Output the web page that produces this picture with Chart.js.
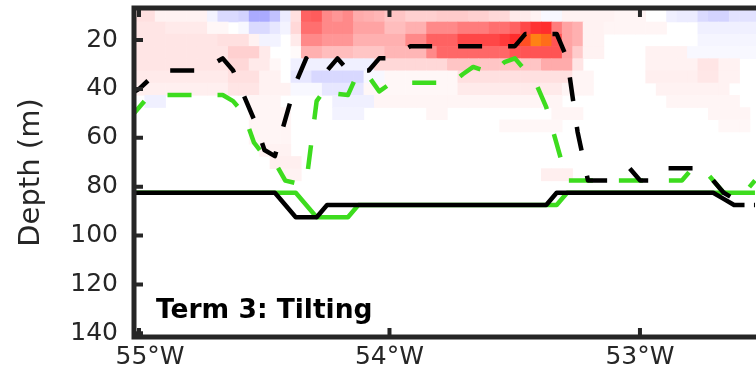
<!DOCTYPE html>
<html>
<head>
<meta charset="utf-8">
<script src="https://cdn.jsdelivr.net/npm/chart.js@4.4.1/dist/chart.umd.min.js"></script>
<style>
html, body { margin: 0; padding: 0; background: #fff; overflow: hidden; }
#wrap { width: 756px; height: 384px; overflow: hidden; }
</style>
</head>
<body>
<div id="wrap"><canvas id="tilt" width="800" height="384"></canvas></div>
<script>
// grid of the tilting term (1/24 deg x 5 m cells), values in % of colour range
const lonStart = -55.02;
const lonStep = 1 / 24;
const depthRows = [10, 15, 20, 25, 30, 35, 40, 45, 50, 55, 60, 65, 70, 75];

const heat10 = [12,12, 5,5,5,5,5, -5, -15,-15,-18, -35,-35, -25, -8, 12, 60, 62, 45, 40, 45, 32,30,28, 22,22, 18,18,18, 20,20,20, 18,18, 15,15, 8,8, 5, -3,-3, 5,5,5,5,5, 4,4,4, 0,0, -6,-8,-8, -15,-18,-18, -12,-12,-12];
const heat15 = [10,10,10, 8,8,8,8, 3,3, 0,-3, -15,-15, -10, -5, 15, 55,55, 45,45,45, 35,35,35, 25,25, 30,30, 45,45,45, 50,50,50, 55,55,60, 70, 78,80, 50, 35,30, 5,5, 4,4,4,4,4,4, 0,0,0, -6,-6,-6,-6,-6,-6];
const heat20 = [10,10,10, 10,10,10,10,10, 12,12,12, 5, -5,-5, 0, 8, 45,45, 40,40,40, 30,30,30, 30,30, 45,45, 60,60,60, 70,70,70,70, 75, 80, 88, 100, 95, 65, 35,30, 5,5, 0,0,0,0,0,0,0,0,0, -4,-4,-4,-4,-4,-4];
const heat25 = [10,10,10,10,10,10,10,10, 10, 18,18,18, 8, 0,0, 2, 30,30, 25,25,25, 22,22,22, 28,28,28,28, 45, 58,58,58,58,58,58,58, 65,65,65,65,65, 35, 20, 5,5, 0,0,0,0, 5,5,5,5, -3,-3,-3,-3,-3,-3,-3];
const heat30 = [10,10,10,10,10,10,10,10,10, 15,15, 8,8, 3, 0, -6,-6,-6,-6,-6,-6,-6,-6, 15,15,15,15,15,15,15, 22,22,22,22,22,22,22,22,22, 32,32,32, 10, 0,0,0,0,0,0, 5,5,5,5,5, 10,10, 5,5, 0,0];
const heat35 = [8,8,8,8,8,8,8,8,8, 12,12,12, 5,5, 0, -10,-10, -16,-16,-16,-16,-16, -3,-3, 3,3,3,3,3,3,3, 12,12,12,12,12,12,12,12,12,12,12, 4,4, 0,0,0,0,0, 6,6,6,6,6, 9,9, 5,5, 0,0];
const heat40 = [6,6,6,6,6,6,6,6,6, 10,10,10, 5,5,5, -3,-3,-3, -10,-10,-10,-10, 3,3,3,3,3,3,3,3,3, 8,8,8,8,8,8,8,8,8,8, 4,4,4, 0,0,0,0,0,0, 5,5,5,5,5,5,5, 0,0,0];
const heat45 = [0, -6,-6, 0,0,0,0,0,0,0,0, 4,4,4, 0,0,0,0,0, -6,-6,-6,-6, 4,4,4,4,4,4,4,4,4,4,4,4,4,4,4,4,4,4, 0,0,0,0,0,0,0,0,0,0, 4,4,4,4,4,4,4, 0,0];
const heat50 = [0,0,0,0,0,0,0,0,0,0,0, 4,4,4,4, 0,0,0,0, -5,-5,-5, 0,0,0,0,0,0, 4,4, 0,0,0,0,0,0,0,0,0,0, 4,4,4, 0,0,0,0,0,0,0,0,0,0,0,0, 4,4,4,4, 0];
const heat55 = [0,0,0,0,0,0,0,0,0,0,0, 4,4,4,4, 0,0,0,0,0,0,0,0,0,0,0,0,0,0,0,0,0,0,0,0, 3,3,3,3,3,3, 0,0,0,0,0,0,0,0,0,0,0,0,0,0,0, 3,3,3, 0];
const heat60 = [0,0,0,0,0,0,0,0,0,0,0, 4,4,4,4, 0,0,0,0,0,0,0,0,0,0,0,0,0,0,0,0,0,0,0,0,0,0,0,0,0,0,0,0,0,0,0,0,0,0,0,0,0,0,0,0,0,0,0,0,0];
const heat65 = [0,0,0,0,0,0,0,0,0,0,0,0, 5,5,5, 0,0,0,0,0,0,0,0,0,0,0,0,0,0,0,0,0,0,0,0,0,0,0,0,0,0,0,0,0,0,0,0,0,0,0,0,0,0,0,0,0,0,0,0,0];
const heat70 = [0,0,0,0,0,0,0,0,0,0,0,0,0, 6,6,6, 0,0,0,0,0,0,0,0,0,0,0,0,0,0,0,0,0,0,0,0,0,0,0,0,0,0,0,0,0,0,0,0,0,0,0,0,0,0,0,0,0,0,0,0];
const heat75 = [0,0,0,0,0,0,0,0,0,0,0,0,0,0, 5,5, 0,0,0,0,0,0,0,0,0,0,0,0,0,0,0,0,0,0,0,0,0,0,0, 6,6,6, 0,0,0,0,0,0,0,0,0,0,0,0,0,0,0,0,0,0];
const heatRows = [heat10, heat15, heat20, heat25, heat30, heat35, heat40, heat45, heat50, heat55, heat60, heat65, heat70, heat75];

// layer depths (m) at the grid column centres, first value just west of the frame
const blackDashed = [42.5, 40, 36, 32.5,32.5,32.5,32.5,32.5, 30, 27.5, 32.5, 42.5, 52.5, 65, 67.5, 52.5, 37.5, 27.5, 32.5, 32.5, 27.5, 32.5, 32.5, 32.5, 27.5, 27.5, 25, 22.5,22.5,22.5,22.5,22.5,22.5,22.5,22.5,22.5,22.5,22.5, 17.5,17.5,17.5,17.5, 27.5, 57.5, 77.5, 77.5, 77.5, 75, 72.5, 77.5, 77.5, 72.5, 72.5,72.5,72.5,72.5, 77.5, 82.5, 85, 87.5,87.5];
const greenDashed = [52.5, 47.5, 42.5,42.5,42.5,42.5,42.5,42.5,42.5,42.5, 45, 50, 62, 67.5, 70, 77.5, 78.5, 78.5, 45, 39, 42, 42.5, 33, 35, 41, 38, 37.5,37.5,37.5,37.5,37.5,37.5, 34, 31, 32.5, 33, 29, 27.5, 32.5, 37.5, 47.5, 62.5, 77.5,77.5,77.5,77.5,77.5,77.5,77.5,77.5,77.5,77.5,77.5,77.5, 72.5, 72.5, 77.5, 82.5, 82.5, 82.5, 77.5];
const blackSolid = [82.5, 82.5,82.5,82.5,82.5,82.5,82.5,82.5,82.5,82.5,82.5,82.5,82.5,82.5,82.5, 87.5, 92.5,92.5,92.5, 87.5, 87.5,87.5,87.5,87.5,87.5,87.5,87.5,87.5,87.5,87.5,87.5,87.5,87.5,87.5,87.5,87.5,87.5,87.5,87.5,87.5,87.5, 82.5, 82.5,82.5,82.5,82.5,82.5,82.5,82.5,82.5,82.5,82.5,82.5,82.5,82.5,82.5,82.5, 85, 87.5,87.5];
const greenSolid = [82.5, 82.5,82.5,82.5,82.5,82.5,82.5,82.5,82.5,82.5,82.5,82.5,82.5,82.5,82.5,82.5,82.5, 87.5, 92.5,92.5,92.5,92.5, 87.5,87.5,87.5,87.5,87.5,87.5,87.5,87.5,87.5,87.5,87.5,87.5,87.5,87.5,87.5,87.5,87.5,87.5,87.5,87.5, 82.5,82.5,82.5,82.5,82.5,82.5,82.5,82.5,82.5,82.5,82.5,82.5,82.5,82.5,82.5,82.5,82.5,82.5,82.5];

const xTicks = [-55, -54, -53];
const yTicks = [20, 40, 60, 80, 100, 120, 140];
const panelLabel = 'Term 3: Tilting';

const axisColor = '#262626';
const green = '#3ddc1e';
const tickFont = '25px "DejaVu Sans"';
const xLabelShift = [11, 0, 0]; // the 55°W label sits a little right of its tick in the original

// line points sit on column centres, index 0 is half a column west of the frame
function toPoints(depths) {
    return depths.map((d, i) => ({ x: lonStart + (i - 0.5) * lonStep, y: d }));
}

function lonLabel(v) {
    return `${Math.abs(v)}°W`;
}

function heatColor(v) {
    if (v >= 0) {
        if (v <= 0.8) {
            const t = v / 0.8;
            return `rgb(255,${Math.round(255 - t * 210)},${Math.round(255 - t * 210)})`;
        }
        const t = Math.min((v - 0.8) / 0.2, 1);
        return `rgb(255,${Math.round(45 + t * 85)},${Math.round(45 - t * 25)})`;
    }
    const t = Math.min(-v / 0.8, 1);
    const c = Math.round(255 - t * 195);
    return `rgb(${c},${c},255)`;
}

const heatmap = {
    id: 'heatmap',
    beforeDatasetsDraw(chart) {
        const { ctx, chartArea: a, scales: { x, y } } = chart;
        ctx.save();
        ctx.beginPath();
        ctx.rect(a.left, a.top, a.right - a.left, a.bottom - a.top);
        ctx.clip();
        heatRows.forEach((row, r) => {
            const y0 = y.getPixelForValue(depthRows[r] - 2.5);
            const y1 = y.getPixelForValue(depthRows[r] + 2.5);
            row.forEach((val, c) => {
                if (val === 0) return;
                const x0 = x.getPixelForValue(lonStart + c * lonStep);
                const x1 = x.getPixelForValue(lonStart + (c + 1) * lonStep);
                ctx.fillStyle = heatColor(val / 100);
                ctx.fillRect(x0, y0, x1 - x0 + 0.6, y1 - y0 + 0.6);
            });
        });
        ctx.restore();
    }
};

const axisFrame = {
    id: 'axisFrame',
    afterDatasetsDraw(chart) {
        const { ctx, chartArea: a, scales: { x, y } } = chart;
        ctx.save();
        ctx.strokeStyle = axisColor;
        ctx.lineCap = 'butt';
        ctx.lineWidth = 4;
        ctx.beginPath();
        yTicks.forEach(v => {
            const py = y.getPixelForValue(v);
            ctx.moveTo(a.left, py);
            ctx.lineTo(a.left + 9, py);
        });
        xTicks.forEach(v => {
            const px = x.getPixelForValue(v);
            ctx.moveTo(px, a.bottom);
            ctx.lineTo(px, a.bottom - 9);
            ctx.moveTo(px, a.top);
            ctx.lineTo(px, a.top + 9);
        });
        ctx.stroke();
        ctx.lineWidth = 5;
        ctx.strokeRect(a.left, a.top, a.right - a.left, a.bottom - a.top);

        // longitude labels under the frame
        ctx.fillStyle = axisColor;
        ctx.font = tickFont;
        ctx.textAlign = 'center';
        ctx.textBaseline = 'top';
        xTicks.forEach((v, i) => {
            ctx.fillText(lonLabel(v), x.getPixelForValue(v) + xLabelShift[i], a.bottom + 8);
        });

        ctx.fillStyle = '#000';
        ctx.font = 'bold 26.5px "DejaVu Sans"';
        ctx.textAlign = 'left';
        ctx.textBaseline = 'alphabetic';
        ctx.fillText(panelLabel, a.left + 22, a.bottom - 19);
        ctx.restore();
    }
};

// keep the plot frame where it is, whatever room the tick labels ask for
function noPad(s) {
    s.paddingTop = 0;
    s.paddingBottom = 0;
    s.paddingLeft = 0;
    s.paddingRight = 0;
}

new Chart(document.getElementById('tilt'), {
    type: 'line',
    data: {
        datasets: [
            { data: toPoints(blackDashed), borderColor: '#000', borderWidth: 4.5, borderDash: [24, 26] },
            { data: toPoints(greenDashed), borderColor: green, borderWidth: 4.5, borderDash: [24, 26] },
            { data: toPoints(blackSolid), borderColor: '#000', borderWidth: 4.5 },
            { data: toPoints(greenSolid), borderColor: green, borderWidth: 4.5 }
        ]
    },
    options: {
        responsive: false,
        animation: false,
        layout: { padding: { top: 8, right: 0, bottom: 0, left: 0 } },
        elements: {
            point: { radius: 0 },
            line: { tension: 0, borderJoinStyle: 'round', borderCapStyle: 'butt' }
        },
        plugins: { legend: { display: false }, tooltip: { enabled: false } },
        scales: {
            x: {
                type: 'linear',
                min: -55.02,
                max: -52.361,
                grid: { display: false, drawTicks: false },
                border: { display: false },
                afterBuildTicks: s => { s.ticks = xTicks.map(v => ({ value: v })); },
                afterFit: s => { s.height = 47; noPad(s); },
                ticks: { display: false }
            },
            y: {
                type: 'linear',
                reverse: true,
                min: 6.9,
                max: 141.5,
                grid: { display: false, drawTicks: false },
                border: { display: false },
                afterBuildTicks: s => { s.ticks = yTicks.map(v => ({ value: v })); },
                afterFit: s => { s.width = 134; noPad(s); },
                ticks: {
                    padding: 16,
                    color: axisColor,
                    font: { family: 'DejaVu Sans', size: 25 }
                },
                title: {
                    display: true,
                    text: 'Depth (m)',
                    color: axisColor,
                    font: { family: 'DejaVu Sans', size: 29 },
                    padding: { top: 14, bottom: 0 }
                }
            }
        }
    },
    plugins: [heatmap, axisFrame]
});
</script>
</body>
</html>
